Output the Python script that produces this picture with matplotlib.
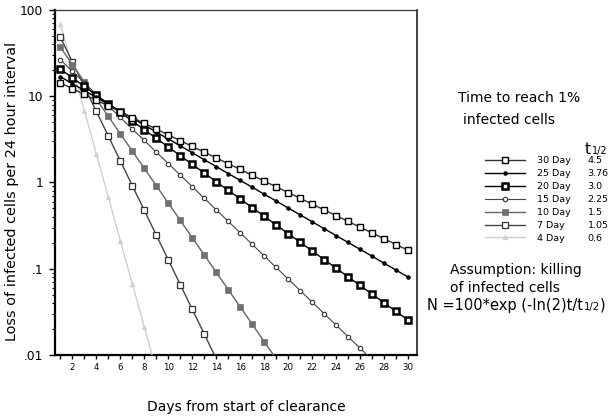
import matplotlib
matplotlib.use("Agg")
import matplotlib.pyplot as plt
from matplotlib.lines import Line2D
from matplotlib.ticker import FixedLocator, FixedFormatter, MultipleLocator, NullFormatter, LogLocator

# ---------------- data ----------------
series_labels = ["30 Day", "25 Day", "20 Day", "15 Day", "10 Day", "7 Day", "4 Day"]
half_lives = ["4.5", "3.76", "3.0", "2.25", "1.5", "1.05", "0.6"]

loss_30day = [14.28, 12.24, 10.49, 8.99, 7.71, 6.61, 5.67, 4.86, 4.16, 3.57,
              3.06, 2.62, 2.25, 1.93, 1.65, 1.42, 1.21, 1.04, 0.892, 0.765,
              0.656, 0.562, 0.482, 0.413, 0.354, 0.303, 0.260, 0.223, 0.191, 0.164]
loss_25day = [16.83, 14.00, 11.64, 9.68, 8.05, 6.70, 5.57, 4.63, 3.85, 3.20,
              2.66, 2.21, 1.84, 1.53, 1.27, 1.06, 0.881, 0.733, 0.610, 0.507,
              0.422, 0.351, 0.292, 0.242, 0.202, 0.168, 0.140, 0.116, 0.0965, 0.0802]
loss_20day = [20.63, 16.37, 13.00, 10.31, 8.19, 6.50, 5.16, 4.09, 3.25, 2.58,
              2.05, 1.62, 1.29, 1.02, 0.812, 0.645, 0.512, 0.406, 0.322, 0.256,
              0.203, 0.161, 0.128, 0.1016, 0.0806, 0.0640, 0.0508, 0.0403, 0.0320, 0.0254]
loss_15day = [26.51, 19.48, 14.32, 10.52, 7.73, 5.68, 4.17, 3.07, 2.25, 1.66,
              1.22, 0.895, 0.658, 0.483, 0.355, 0.261, 0.192, 0.141, 0.1035, 0.0761,
              0.0559, 0.0411, 0.0302, 0.0222, 0.0163, 0.0120, 0.00881]
loss_10day = [37.00, 23.31, 14.68, 9.25, 5.83, 3.67, 2.31, 1.46, 0.918, 0.578,
              0.364, 0.229, 0.145, 0.0911, 0.0574, 0.0361, 0.0228, 0.0143, 0.00903]
loss_7day = [48.31, 24.97, 12.90, 6.67, 3.45, 1.78, 0.920, 0.475, 0.246, 0.127,
             0.0656, 0.0339, 0.0175, 0.00906]
loss_4day = [68.50, 21.58, 6.80, 2.14, 0.674, 0.212, 0.0669, 0.0211, 0.00664]

y_tick_values = [0.01, 0.1, 1, 10, 100]
y_tick_labels = [".01", ".1", "1", "10", "100"]
x_tick_values = [2, 4, 6, 8, 10, 12, 14, 16, 18, 20, 22, 24, 26, 28, 30]

all_series = [loss_30day, loss_25day, loss_20day, loss_15day, loss_10day, loss_7day, loss_4day]

# ---------------- styles ----------------
styles = [
    dict(color="#333333", lw=1.0, marker="s", ms=5.0, mfc="white", mec="black", mew=1.0),
    dict(color="black", lw=1.0, marker="o", ms=2.7, mfc="black", mec="black", mew=0.5),
    dict(color="black", lw=1.0, marker="s", ms=5.0, mfc="white", mec="black", mew=1.8),
    dict(color="#444444", lw=0.8, marker="o", ms=3.2, mfc="white", mec="#333333", mew=0.8),
    dict(color="#666666", lw=1.0, marker="s", ms=4.6, mfc="#707070", mec="#707070", mew=0.5),
    dict(color="#444444", lw=1.0, marker="s", ms=5.0, mfc="white", mec="#333333", mew=0.9),
    dict(color="#cfcfcf", lw=1.0, marker="^", ms=3.2, mfc="#cfcfcf", mec="#cfcfcf", mew=0.5),
]

W, H = 615, 416
fig = plt.figure(figsize=(W / 100, H / 100), dpi=100)
plt.rcParams["font.family"] = ["DejaVu Sans"]

ax = fig.add_axes([55 / W, 61 / H, 362 / W, 345 / H])

handles = []
for vals, st, lab in zip(all_series, styles, series_labels):
    days = list(range(1, len(vals) + 1))
    ln, = ax.plot(days, vals, label=lab, **st)
    handles.append(ln)
for i, ln in enumerate(handles):
    ln.set_zorder(10 - i)

ax.set_yscale("log")
ax.set_ylim(0.01, 100)
ax.set_xlim(0.55, 30.75)

ax.yaxis.set_major_locator(FixedLocator(y_tick_values))
ax.yaxis.set_major_formatter(FixedFormatter(y_tick_labels))
ax.yaxis.set_minor_locator(LogLocator(base=10, subs=range(2, 10)))
ax.yaxis.set_minor_formatter(NullFormatter())

ax.xaxis.set_major_locator(FixedLocator(x_tick_values))
ax.xaxis.set_minor_locator(MultipleLocator(1))

ax.tick_params(axis="y", which="major", direction="out", length=4, width=1, labelsize=8.8, pad=4.5)
ax.tick_params(axis="y", which="minor", direction="out", length=2.2, width=0.8)
ax.tick_params(axis="x", which="major", direction="out", length=3, width=1, labelsize=6.2, pad=3)
ax.tick_params(axis="x", which="minor", direction="out", length=3, width=1)
ax.tick_params(top=False, right=False)

for side in ["left", "bottom"]:
    ax.spines[side].set_linewidth(1.6)
ax.spines["right"].set_linewidth(1.3)
ax.spines["right"].set_color("#333333")
ax.spines["top"].set_linewidth(1.0)
ax.spines["top"].set_color("#444444")

ax.set_ylabel("Loss of infected cells per 24 hour interval", fontsize=10.4,
              va="baseline", rotation_mode="anchor")
ax.yaxis.set_label_coords((16 - 55) / 362, (416 - 191 - 61) / 345)
ax.set_xlabel("Days from start of clearance", fontsize=10, va="baseline")
ax.xaxis.set_label_coords((246.5 - 55) / 362, (416 - 411 - 61) / 345)

# ---------------- legend-like annotation block ----------------
def fx(px):
    return px / W

def fy(py):
    return 1 - py / H

fig.text(fx(458), fy(102), "Time to reach 1%", fontsize=10, va="baseline")
fig.text(fx(463), fy(123.5), "infected cells", fontsize=10, va="baseline")
t_head = fig.text(fx(585), fy(154), "t", fontsize=11, va="baseline")
fig.canvas.draw()
r = fig.canvas.get_renderer()
bbh = t_head.get_window_extent(r)
fig.text((bbh.x1 + 1) / W, fy(154), "1/2", fontsize=7.0, va="baseline")

leg_fs = 6.8
leg1 = fig.legend(handles, series_labels, loc="upper left",
                  bbox_to_anchor=(fx(485), fy(156)), frameon=False,
                  fontsize=leg_fs, handlelength=4.2, handletextpad=1.35,
                  labelspacing=0.42, borderpad=0, borderaxespad=0, numpoints=1)
blank = [Line2D([], [], linestyle="none") for _ in half_lives]
leg2 = fig.legend(blank, half_lives, loc="upper left",
                  bbox_to_anchor=(fx(587.5), fy(156)), frameon=False,
                  fontsize=leg_fs, handlelength=0, handletextpad=0,
                  labelspacing=0.42, borderpad=0, borderaxespad=0)

fig.text(fx(450), fy(274), "Assumption: killing", fontsize=10, va="baseline")
fig.text(fx(450), fy(292), "of infected cells", fontsize=10, va="baseline")
t_main = fig.text(fx(427), fy(310), "N =100*exp (-ln(2)t/t", fontsize=10.5, va="baseline")
fig.canvas.draw()
r = fig.canvas.get_renderer()
bb = t_main.get_window_extent(r)
t_sub = fig.text((bb.x1 + 0.5) / W, fy(310), "1/2", fontsize=7.2, va="baseline")
fig.canvas.draw()
bb2 = t_sub.get_window_extent(r)
fig.text((bb2.x1 + 0.5) / W, fy(310), ")", fontsize=10.5, va="baseline")

fig.savefig("out.png", dpi=100)
